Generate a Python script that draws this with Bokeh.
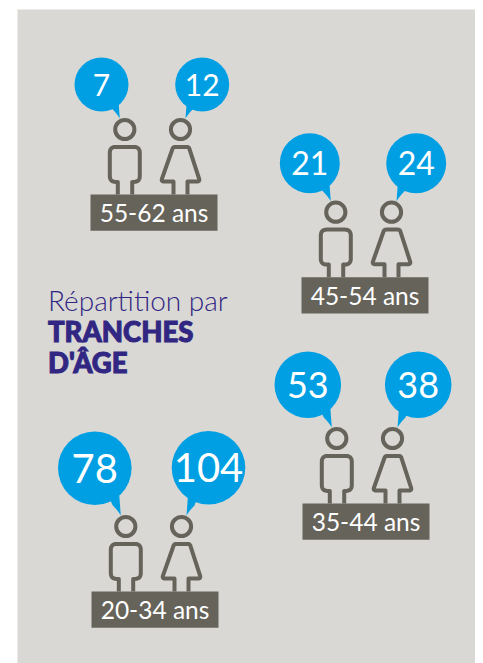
from bokeh.plotting import figure
from bokeh.models import Range1d
from bokeh.core.properties import value
from bokeh.embed import file_html
from bokeh.resources import INLINE
import math

# data
age_labels = ["55-62 ans", "45-54 ans", "35-44 ans", "20-34 ans"]
men = [7, 21, 53, 78]
women = [12, 24, 38, 104]
title_light = "Répartition par"
title_bold = ["TRANCHES", "D'ÂGE"]

# layout (page pixels)
X0 = [90, 301, 302, 91]
Y0 = [194, 276.7, 503, 591]
LEFT_C = [(101, 84), (309.3, 162.7), (307.3, 384.3), (94.3, 467.7)]
RIGHT_C = [(201.7, 84), (415.7, 162.7), (417.7, 384.3), (208, 467.3)]
RAD = [27, 30, 33.3, 36.8]
NUM_SIZE = [30, 32, 36, 40]

BG, BLUE, DARK, PURPLE = "#d9d8d4", "#009fe3", "#66635a", "#312783"

p = figure(width=483, height=663, output_backend="svg", toolbar_location=None,
           x_range=Range1d(0, 483), y_range=Range1d(663, 0), min_border=0,
           outline_line_color=None, border_fill_color="white")
p.axis.visible = False
p.grid.visible = False
p.quad(left=[17], right=[474.5], top=[9], bottom=[663], color=BG, line_color=None)


def bez(a, c, b, n=8):
    return [((1-t)**2*a[0]+2*t*(1-t)*c[0]+t*t*b[0], (1-t)**2*a[1]+2*t*(1-t)*c[1]+t*t*b[1])
            for t in [i/n for i in range(n+1)]]


def rounded(pts):
    out = [pts[0][:2]]
    for i in range(1, len(pts)-1):
        x, y, r = pts[i]
        if r == 0:
            out.append((x, y))
            continue
        px, py = pts[i-1][:2]
        nx, ny = pts[i+1][:2]
        d1 = math.hypot(px-x, py-y)
        d2 = math.hypot(nx-x, ny-y)
        a = (x+(px-x)*r/d1, y+(py-y)*r/d1)
        b = (x+(nx-x)*r/d2, y+(ny-y)*r/d2)
        out += bez(a, (x, y), b)
    out.append(pts[-1][:2])
    return [o[0] for o in out], [o[1] for o in out]


MALE = [(27.3, 0, 0), (27.3, -12.6, 0), (19.3, -12.6, 6), (19.3, -47.6, 6), (49.3, -47.6, 6),
        (49.3, -12.6, 6), (41.7, -12.6, 0), (41.7, 0, 0)]
FEMALE = [(83, 0, 0), (83, -13, 0), (70.5, -13, 3), (82.7, -47.6, 2), (98.3, -47.6, 2),
          (109.5, -13, 3), (97, -13, 0), (97, 0, 0)]


def bubble(c, r, tip, side):
    p.circle(x=[c[0]], y=[c[1]], radius=r, color=BLUE, line_color=None)
    a = (tip[0]+side*1.5, tip[1]-20)
    b = (tip[0]+side*8, tip[1]-10)
    ctrl = (tip[0]+side*3, tip[1]-5)
    curve = bez(b, ctrl, tip)
    xs = [a[0], c[0]] + [q[0] for q in curve]
    ys = [a[1], c[1]] + [q[1] for q in curve]
    p.patch(xs, ys, color=BLUE, line_color=None)


for i in range(4):
    x0, y0 = X0[i], Y0[i]
    for hx in (34.3, 90):
        p.circle(x=[x0+hx], y=[y0-65], radius=9.6, fill_color=None, line_color=DARK, line_width=4)
    for shape in (MALE, FEMALE):
        xs, ys = rounded([(x0+a, y0+b, r) for a, b, r in shape])
        p.line(xs, ys, line_color=DARK, line_width=4, line_join="round")
    p.quad(left=[x0], right=[x0+127], top=[y0], bottom=[y0+36.3], color=DARK, line_color=None)
    p.text(x=[x0+63.5], y=[y0+18], text=[age_labels[i]], text_font=value("Lato"), text_color="white",
           text_font_size="24.5px", text_align="center", text_baseline="middle")
    bubble(LEFT_C[i], RAD[i], (x0+29.3, y0-76), -1)
    bubble(RIGHT_C[i], RAD[i], (x0+95, y0-76), 1)
    for c, v in ((LEFT_C[i], men[i]), (RIGHT_C[i], women[i])):
        p.text(x=[c[0]], y=[c[1]], text=[str(v)], text_font=value("Lato"), text_color="white",
               text_font_size=f"{NUM_SIZE[i]}px", text_align="center", text_baseline="middle")

p.text(x=[47.5], y=[299], text=[title_light], text_font=value("Lato Light"), text_color=PURPLE,
       text_font_size="28px", text_baseline="middle")
for t, yy in zip(title_bold, [331, 362]):
    p.text(x=[47.5], y=[yy], text=[t], text_font=value("Lato Black"), text_color=PURPLE,
           text_font_size="27.5px", text_font_style="bold", text_baseline="middle",
           text_outline_color=PURPLE)

open("out.html", "w").write(file_html(p, INLINE))
